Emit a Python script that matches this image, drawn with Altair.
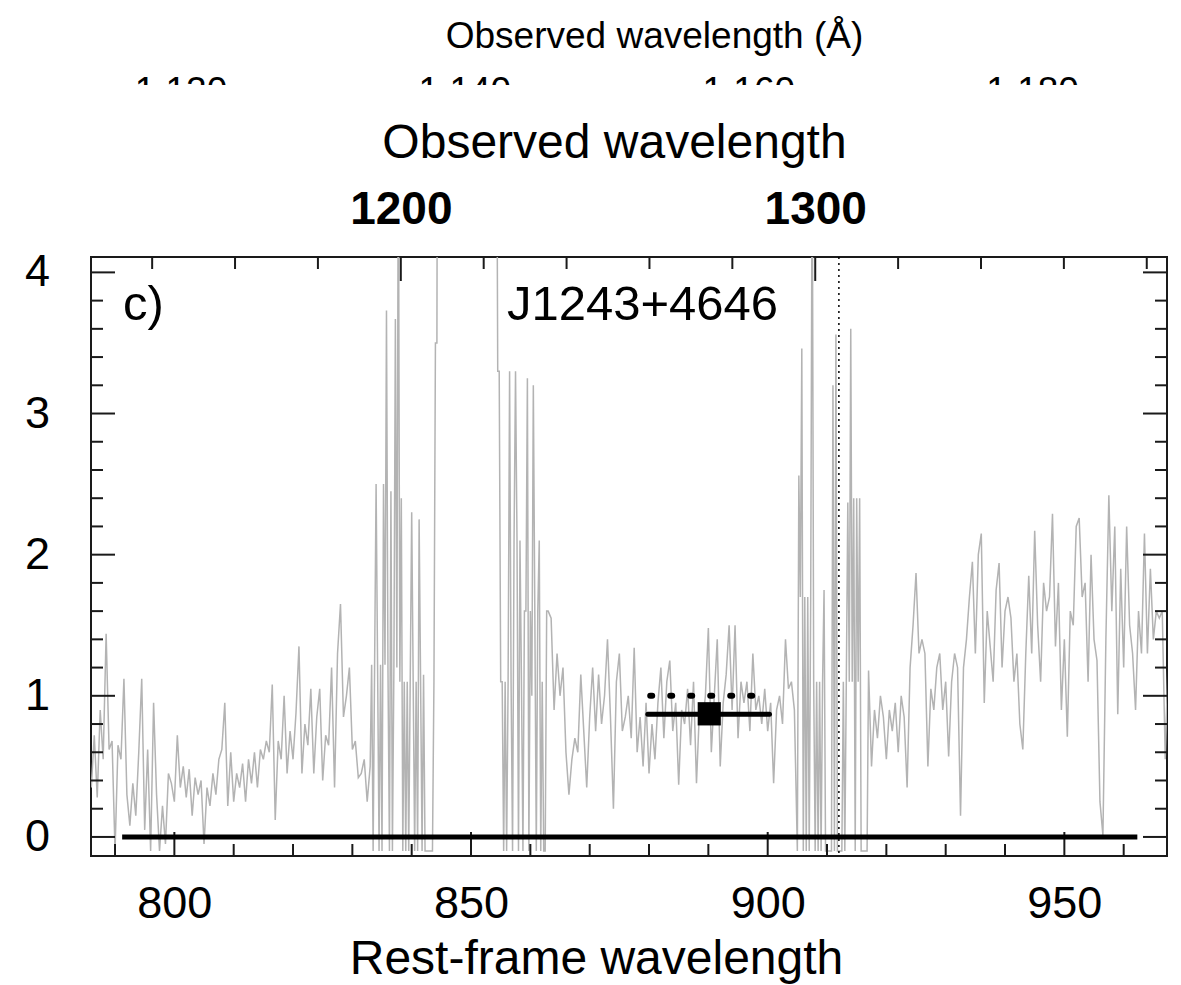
import altair as alt
import pandas as pd

# ---------------- data ----------------
Z1 = 1.4317                      # 1 + z of J1243+4646
X_DOMAIN = [785.95, 967.3]       # rest-frame wavelength range
Y_DOMAIN = [-0.135, 4.109]
CLIP_DOMAIN = [1113.7, 1189.5]   # clipped outer observed-wavelength axis

# spectrum segments: (start wavelength, step, flux values)
seg_a = (786.0, 0.5, [0.35, 0.72, 0.28, 0.9, 0.55, 1.44, 0.62, 0.68, -0.1, 0.65,
                      0.55, 1.12, 0.3, 0.08, 0.38, 0.15, 0.6, 1.12, 0.05, 0.62,
                      -0.1, 0.95, 0.3, -0.1, 0.22, -0.05, 0.45, 0.38, 0.25, 0.72,
                      0.35, 0.5, 0.28, 0.48, 0.15, 0.42, 0.3, 0.4, -0.05, 0.35,
                      0.22, 0.45, 0.3, 0.55, 0.62, 0.95, 0.22, 0.6, 0.25, 0.45,
                      0.35, 0.52, 0.25, 0.55, 0.38, 0.6, 0.35, 0.62, 0.55, 0.68,
                      0.6, 1.08, 0.12, 0.68, 0.55, 1.0, 0.45, 0.75, 0.55, 0.88,
                      1.35, 0.45, 0.8, 0.65, 1.05, 0.45, 0.85, 1.05, 0.4, 0.72,
                      0.65, 1.2, 0.35, 1.3, 1.65, 0.85, 1.0, 1.2, 0.62, 0.68,
                      0.42, 0.45, 0.55, 0.25])
seg_b = (833.0, 0.25, [0.5, 1.22, -0.1, 1.22, 2.5, 1.22, -0.1, 1.22, -0.1, 2.5,
                       1.22, 3.73, 1.2, -0.1, 2.45, -0.1, 1.2, 3.67, 1.2, 5.0,
                       1.1, 2.4, -0.1, 1.1, -0.1, 1.1, -0.1, 1.1, 2.3, 1.1,
                       -0.1, 1.1, -0.1, 2.25, 1.1, -0.1, 1.15, -0.1, -0.1, -0.1,
                       -0.1, -0.1, -0.1, 1.1, 3.5, 3.5, 9.0])
seg_c = (845.0, 0.5, [9.0, 9.0, 9.0, 9.0, 9.0, 9.0, 9.0, 9.0, 9.0, 9.0,
                      9.0, 9.0, 9.0, 9.0, 9.0, 9.0, 9.0, 9.0, 9.0])
seg_d = (854.5, 0.25, [3.3, 3.3, 1.1, 1.1, -0.1, 1.1, -0.1, 1.1, 3.3, 1.1,
                       -0.1, 2.1, 3.3, 2.1, -0.1, 2.1, 1.1, -0.1, 1.6, 1.6,
                       3.25, -0.1, 1.6, 1.0, 3.2, 1.6, -0.1, 1.6, 2.1, -0.1,
                       1.1, -0.1, -0.1, 1.6, 1.6])
seg_e = (863.5, 0.5, [1.55, 0.9, 1.3, 1.0, 1.2, 0.6, 0.3, 0.55, 0.7, 0.6,
                      1.15, 0.75, 0.35, 0.85, 1.2, 0.75, 1.15, 0.8, 1.0, 1.4,
                      0.85, 0.2, 1.1, 1.3, 0.75, 0.85,
                      1.0, 0.7, 1.34, 0.6, 0.85, 0.5, 0.95, 0.45, 0.8, 0.55,
                      0.95, 1.2, 0.7, 1.1, 1.25, 0.75, 0.95, 0.37, 0.9, 0.8,
                      1.05, 0.65, 1.1, 0.38, 0.9, 0.8, 1.0, 1.48, 0.6, 1.0,
                      1.4, 0.5, 0.95, 1.15, 1.5, 0.9, 1.5, 0.7, 1.1, 0.95,
                      1.1, 0.75, 1.3, 0.9, 1.0, 0.8, 1.05, 0.75, 0.95, 0.38,
                      0.9, 1.0, 0.8, 1.4, 1.05, 1.1, 0.9])
seg_f = (905.0, 0.25, [-0.1, 2.56, 1.7, 3.46, -0.1, 1.7, -0.1, 1.7, -0.1, 1.7,
                       5.0, 1.1, -0.1, 1.1, -0.1, 1.1, -0.1, 1.1, 1.75, -0.1,
                       -0.1, -0.1, -0.1, -0.1, 3.2, -0.1, 3.56, -0.1, -0.1, -0.1,
                       -0.1, 1.1, -0.1, 1.1, 2.37, 1.1, 3.6, 1.1, 2.4, -0.1,
                       2.4, 1.1, 2.4, -0.1, -0.1, -0.1, -0.1, -0.1, 1.18])
seg_g = (917.5, 0.5, [0.5, 0.9, 0.7, 1.0, 0.85, 0.55, 0.9, 0.75, 0.95,
                      0.6, 1.0, 0.85, 0.35, 1.2, 1.5, 1.87, 1.3, 1.4, 1.3,
                      0.5, 1.05, 0.9, 1.2, 1.3, 0.9, 1.1, 0.57, 1.1, 1.3,
                      1.2, 0.15, 1.2, 1.4, 1.7, 1.95, 1.3, 2.0, 2.15, 0.95,
                      1.6, 1.35, 1.1, 1.75, 1.94, 1.2, 1.6, 1.7, 1.55, 1.1,
                      1.3, 0.8, 0.62, 1.3, 1.85, 1.3, 2.17, 1.5, 1.1, 1.8,
                      1.6, 1.7, 2.29, 1.35, 1.8, 0.9, 1.4, 0.71, 1.6, 1.5,
                      2.2, 2.26, 1.7, 1.8, 1.1, 2.0, 1.4, 1.25, 0.25, 0.01,
                      1.4, 2.42, 1.6, 2.2, 0.87, 1.9, 1.2, 2.2, 1.5, 1.3,
                      0.9, 1.6, 1.3, 2.15, 1.3, 1.9, 1.4, 1.6, 1.55, 1.6,
                      0.55, 1.3])
segments = [seg_a, seg_b, seg_c, seg_d, seg_e, seg_f, seg_g]

zero_line = {"x0": [791.2], "x1": [962.3], "y": [0.0]}
lyman_limit = [912.0]
err_h = {"x0": [879.8], "x1": [900.3], "y": [0.87]}
err_box = {"x0": [888.2], "x1": [892.1], "y0": [0.79], "y1": [0.955]}
dotted_level = {"x0": [880.2], "x1": [900.0], "y": [1.0]}
texts = {"label": ["c)", "J1243+4646"], "x": [791.35, 856.05], "y": [3.665, 3.665]}

bottom_major = [800, 850, 900, 950]
bottom_minor = [790, 810, 820, 830, 840, 860, 870, 880, 890, 910, 920, 930, 940, 960]
y_major = [0, 1, 2, 3, 4]
y_minor = [0.2, 0.4, 0.6, 0.8, 1.2, 1.4, 1.6, 1.8, 2.2, 2.4, 2.6, 2.8,
           3.2, 3.4, 3.6, 3.8]
top_major_obs = [1200, 1300]
top_minor_obs = [1140, 1160, 1180, 1220, 1240, 1260, 1280, 1320, 1340, 1360, 1380]
clip_labels = [1120, 1140, 1160, 1180]

# ---------------- build tables ----------------
rows = []
for start, step, vals in segments:
    for i, v in enumerate(vals):
        rows.append({"wl": start + step * i, "flux": v})
spec_df = pd.DataFrame(rows)

W, H = 1076, 599
FONT = "Liberation Sans"
MINOR, MAJOR = 12, 24
INK = "#1a1a1a"

xs = alt.Scale(domain=X_DOMAIN, nice=False, zero=False)
ys = alt.Scale(domain=Y_DOMAIN, nice=False, zero=False)

top_major_df = pd.DataFrame({"obs": top_major_obs})
top_major_df["rest"] = top_major_df["obs"] / Z1
top_minor_df = pd.DataFrame({"obs": top_minor_obs})
top_minor_df["rest"] = top_minor_df["obs"] / Z1
ratio = (X_DOMAIN[1] - X_DOMAIN[0]) / (CLIP_DOMAIN[1] - CLIP_DOMAIN[0])
clip_rest = [X_DOMAIN[0] + (v - CLIP_DOMAIN[0]) * ratio for v in clip_labels]

common_axis = dict(domain=False, ticks=False, tickSize=0, grid=False,
                   labelFont=FONT, labelColor="black", titleFont=FONT,
                   titleColor="black", titleFontWeight="normal")

# spectrum with bottom axis
spectrum = alt.Chart(spec_df).mark_line(color="#b3b3b3", strokeWidth=1.5, clip=True).encode(
    x=alt.X("wl:Q", scale=xs, axis=alt.Axis(
        orient="bottom", values=bottom_major, format="d", labelFontSize=45,
        labelPadding=61, labelBaseline="alphabetic", labelFlush=False,
        title="Rest-frame wavelength", titleFontSize=48, titleX=505, titleY=117,
        titleBaseline="alphabetic", titleAlign="center", **common_axis)),
    y=alt.Y("flux:Q", scale=ys, axis=None),
)

# Lyman limit dotted vertical line, carries the clipped outer observed axis
clip_expr = "format({a} + (datum.value - {b}) / {r}, ',.0f')".format(
    a=CLIP_DOMAIN[0], b=X_DOMAIN[0], r=ratio)
lyman = alt.Chart(pd.DataFrame({"x": lyman_limit})).mark_rule(
    color="black", strokeWidth=1.5, strokeDash=[2, 4]).encode(
    x=alt.X("x:Q", scale=xs, axis=alt.Axis(
        orient="top", values=clip_rest, labelExpr=clip_expr, labelFontSize=37,
        labelPadding=155, labelBaseline="alphabetic", labelFlush=False,
        title="Observed wavelength (Å)", titleFontSize=37, titleX=563, titleY=-210,
        titleBaseline="alphabetic", titleAlign="center", **common_axis)),
)

# top ticks (observed wavelength); the major ones carry the observed axis labels
obs_expr = "format(datum.value * {z}, '.0f')".format(z=Z1)
top_major = alt.Chart(top_major_df).mark_rule(color=INK, strokeWidth=2).encode(
    x=alt.X("rest:Q", scale=xs, axis=alt.Axis(
        orient="top", values=list(top_major_df["rest"]), labelExpr=obs_expr,
        labelFontSize=46, labelFontWeight="bold", labelPadding=34,
        labelBaseline="alphabetic", labelFlush=False,
        title="Observed wavelength", titleFontSize=48, titleX=523, titleY=-100,
        titleBaseline="alphabetic", titleAlign="center", **common_axis)),
    y=alt.value(0), y2=alt.value(MAJOR),
)
top_minor = alt.Chart(top_minor_df).mark_rule(color=INK, strokeWidth=2).encode(
    x=alt.X("rest:Q", scale=xs, axis=None), y=alt.value(0), y2=alt.value(MINOR))

bm = alt.Chart(pd.DataFrame({"t": bottom_major})).mark_rule(color=INK, strokeWidth=2).encode(
    x=alt.X("t:Q", scale=xs, axis=None), y=alt.value(H), y2=alt.value(H - MAJOR))
bn = alt.Chart(pd.DataFrame({"t": bottom_minor})).mark_rule(color=INK, strokeWidth=2).encode(
    x=alt.X("t:Q", scale=xs, axis=None), y=alt.value(H), y2=alt.value(H - MINOR))

def yticks(vals, length, right):
    x0 = W - length if right else 0
    x1 = W if right else length
    return alt.Chart(pd.DataFrame({"t": vals})).mark_rule(color=INK, strokeWidth=2).encode(
        y=alt.Y("t:Q", scale=ys, axis=None), x=alt.value(x0), x2=alt.value(x1))

lm, ln = yticks(y_major, MAJOR, False), yticks(y_minor, MINOR, False)
rm, rn = yticks(y_major, MAJOR, True), yticks(y_minor, MINOR, True)

# y tick labels, drawn as text on the y scale, left of the frame
ylab = alt.Chart(pd.DataFrame({"t": y_major})).mark_text(
    align="right", baseline="middle", fontSize=45, font=FONT, color="black",
    clip=False).encode(
    y=alt.Y("t:Q", scale=ys, axis=None), x=alt.value(-41), text=alt.Text("t:Q", format="d"))

zero = alt.Chart(pd.DataFrame(zero_line)).mark_rule(color="black", strokeWidth=5).encode(
    x=alt.X("x0:Q", scale=xs, axis=None), x2="x1:Q",
    y=alt.Y("y:Q", scale=ys, axis=None))

eh = alt.Chart(pd.DataFrame(err_h)).mark_rule(color="black", strokeWidth=5, strokeCap="round").encode(
    x=alt.X("x0:Q", scale=xs, axis=None), x2="x1:Q",
    y=alt.Y("y:Q", scale=ys, axis=None))
eb = alt.Chart(pd.DataFrame(err_box)).mark_rect(color="black").encode(
    x=alt.X("x0:Q", scale=xs, axis=None), x2="x1:Q",
    y=alt.Y("y0:Q", scale=ys, axis=None), y2="y1:Q")
dl = alt.Chart(pd.DataFrame(dotted_level)).mark_rule(
    color="black", strokeWidth=6, strokeDash=[2, 18], strokeCap="round").encode(
    x=alt.X("x0:Q", scale=xs, axis=None), x2="x1:Q",
    y=alt.Y("y:Q", scale=ys, axis=None))

txt = alt.Chart(pd.DataFrame(texts)).mark_text(
    align="left", baseline="alphabetic", fontSize=49, font=FONT, color="black").encode(
    x=alt.X("x:Q", scale=xs, axis=None), y=alt.Y("y:Q", scale=ys, axis=None),
    text="label:N")

# white band that cuts the outer axis labels in half
cover = alt.Chart(pd.DataFrame({"a": [0]})).mark_rect(color="white").encode(
    x=alt.value(0), x2=alt.value(W), y=alt.value(-172), y2=alt.value(-138))

chart = alt.layer(
    spectrum, lyman, top_major, top_minor, bm, bn, lm, ln, rm, rn, ylab,
    zero, eh, eb, dl, txt, cover
).resolve_axis(x="independent").properties(
    width=W, height=H,
    autosize=alt.AutoSizeParams(type="none"),
    padding={"left": 91, "top": 257, "right": 14, "bottom": 129},
    background="white",
).configure_view(stroke=INK, strokeWidth=2).configure_axis(grid=False)

chart.save("out.html", embed_options={"renderer": "svg", "actions": False})
